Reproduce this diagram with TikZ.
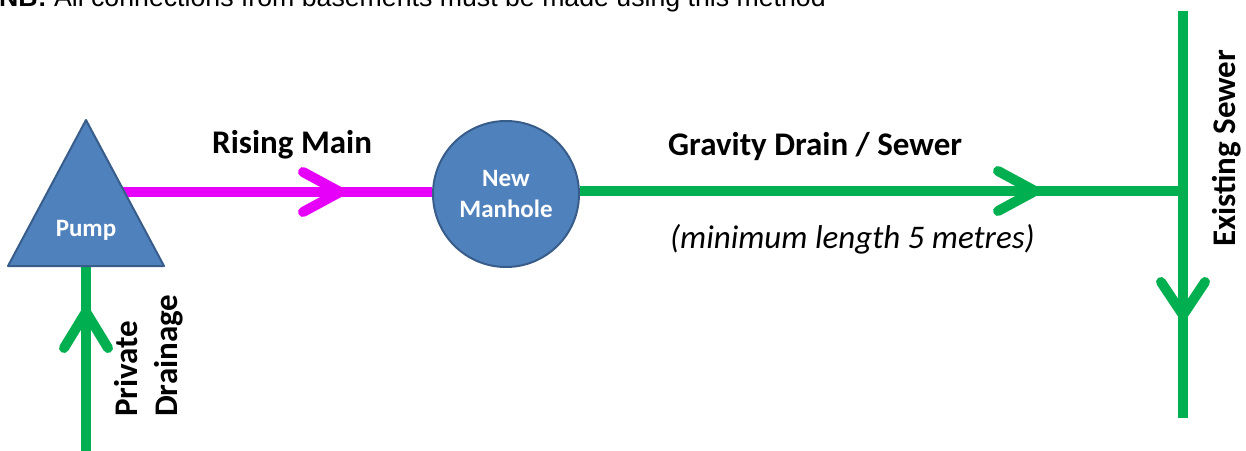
\documentclass[tikz,border=0pt]{standalone}
\usepackage{fontspec}
\setmainfont{Carlito}
\newfontfamily\arialf{Liberation Sans}
\definecolor{boxblue}{HTML}{4F81BD}
\definecolor{boxedge}{HTML}{385D8A}
\definecolor{pipegreen}{HTML}{00B050}
\definecolor{risemag}{HTML}{E600FA}
\begin{document}
\begin{tikzpicture}[x=1pt,y=-1pt,
  pipe/.style={line width=10pt},
  chev/.style={line width=10pt, line cap=round, line join=round},
  lbl/.style={font=\fontsize{33}{36}\selectfont\bfseries, inner sep=0pt, anchor=base west},
  wlbl/.style={font=\fontsize{25}{31}\selectfont\bfseries, text=white, align=center, inner sep=0pt},
  blueshape/.style={fill=boxblue, draw=boxedge, line width=2pt}]
\useasboundingbox (0,0) rectangle (1246,450);
\fill[white] (0,0) rectangle (1246,450);

% top note (clipped at top)
\node[anchor=base west, inner sep=0pt, font=\arialf\fontsize{26.7}{28}\selectfont] (nb) at (-1,6)
  {\textbf{NB:} All connections from basements must be made using this method};

% coordinates
\coordinate (pumptop) at (86,120);
\coordinate (pumpleft) at (8,266);
\coordinate (pumpright) at (164,266);
\coordinate (pumpin) at (100,192);
\coordinate (pdbot) at (86,452);
\coordinate (pdtop) at (86,260);
\coordinate (pdtip) at (86,312);
\coordinate (rmtip) at (340,192);
\coordinate (junction) at (1183,191);
\coordinate (gdtip) at (1035,191);
\coordinate (sewtop) at (1183,11);
\coordinate (sewbot) at (1183,418);
\coordinate (sewtip) at (1183,315);

% manhole
\node[circle, blueshape, minimum size=146pt, inner sep=0pt, wlbl] (manhole) at (506,194) {New\\Manhole};

% pipes
\draw[pipe, risemag] (pumpin) -- (manhole.west |- pumpin);
\draw[chev, risemag] (rmtip) ++(-37,-20) -- (rmtip) -- ++(-37,20);
\draw[pipe, pipegreen] (manhole.east |- junction) -- (junction);
\draw[chev, pipegreen] (gdtip) ++(-37,-20) -- (gdtip) -- ++(-37,20);
\draw[pipe, pipegreen] (sewtop) -- (sewbot);
\draw[chev, pipegreen] (sewtip) ++(-22,-33) -- (sewtip) -- ++(22,-33);
\draw[pipe, pipegreen] (pdbot) -- (pdtop);
\draw[chev, pipegreen] (pdtip) ++(-22,36) -- (pdtip) -- ++(22,36);

% pump
\draw[blueshape, line join=round] (pumptop) -- (pumpright) -- (pumpleft) -- cycle;
\node[wlbl] (pump) at (86,230) {Pump};

% labels
\node[lbl] (rising) at (212,153) {Rising Main};
\node[lbl] (gravity) at (668,155) {Gravity Drain / Sewer};
\node[lbl, font=\fontsize{33}{36}\selectfont\itshape] (minlen) at (670,248) {(minimum length 5 metres)};
\node[lbl, rotate=90] (existing) at (1235,247) {Existing Sewer};
\node[lbl, rotate=90] (private) at (137,417) {Private};
\node[lbl, rotate=90] (drainage) at (177,417) {Drainage};
\end{tikzpicture}
\end{document}
